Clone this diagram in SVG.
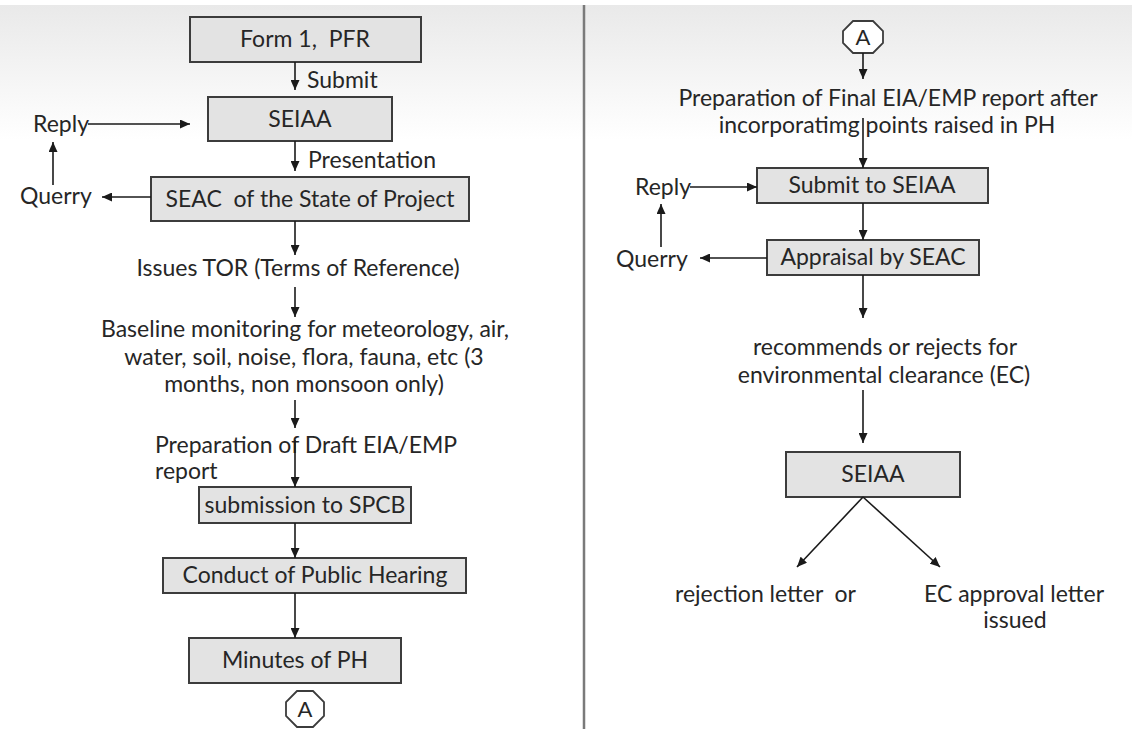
<svg xmlns="http://www.w3.org/2000/svg" width="1132" height="729" viewBox="0 0 1132 729">
<defs>
<linearGradient id="bg" x1="0" y1="0" x2="0" y2="1">
<stop offset="0" stop-color="#e9e9e9"/>
<stop offset="1" stop-color="#ffffff"/>
</linearGradient>
<marker id="ah" markerUnits="userSpaceOnUse" markerWidth="10" markerHeight="9" refX="10" refY="4.5" orient="auto">
<path d="M0,0 L10,4.5 L0,9 z" fill="#1a1a1a"/>
</marker>
<style>
text{font-family:Lato,"Open Sans",sans-serif;font-size:23px;fill:#262626;white-space:pre}
.m{text-anchor:middle}
.box rect{fill:#e3e3e3;stroke:#3c3c3c;stroke-width:2}
.oct polygon{fill:#ffffff;stroke:#3c3c3c;stroke-width:1.8}
.oct text{font-size:22px}
#connectors line{stroke:#1a1a1a;stroke-width:1.6;fill:none;marker-end:url(#ah)}
</style>
</defs>
<rect x="0" y="0" width="1132" height="729" fill="#ffffff"/>
<rect x="0" y="5" width="1132" height="135" fill="url(#bg)"/>
<line x1="584" y1="5" x2="584" y2="729" stroke="#7a7a7a" stroke-width="2.5"/>

<g id="form1" class="box"><rect x="190" y="17" width="231" height="45"/><text class="m" x="305" y="47">Form 1,  PFR</text></g>
<g id="seiaa1" class="box"><rect x="208" y="97" width="184" height="44"/><text class="m" x="300" y="127">SEIAA</text></g>
<g id="seac1" class="box"><rect x="151" y="177" width="318" height="44"/><text class="m" x="310" y="207">SEAC  of the State of Project</text></g>
<g id="submit-label"><text x="307" y="88">Submit</text></g>
<g id="presentation-label"><text x="308" y="168">Presentation</text></g>
<g id="reply1"><text x="33" y="132">Reply</text></g>
<g id="querry1"><text x="20" y="204">Querry</text></g>
<g id="tor"><text class="m" x="298" y="276">Issues TOR (Terms of Reference)</text></g>
<g id="baseline"><text class="m" x="305" y="337">Baseline monitoring for meteorology, air,</text><text class="m" x="304" y="365">water, soil, noise, flora, fauna, etc (3</text><text class="m" x="304" y="392">months, non monsoon only)</text></g>
<g id="draft"><text x="155" y="453">Preparation of Draft EIA/EMP</text><text x="155" y="479">report</text></g>
<g id="spcb" class="box"><rect x="199" y="487" width="212" height="36"/><text class="m" x="305" y="513">submission to SPCB</text></g>
<g id="hearing" class="box"><rect x="163" y="558" width="303" height="35"/><text class="m" x="315" y="583">Conduct of Public Hearing</text></g>
<g id="minutes" class="box"><rect x="189" y="638" width="212" height="45"/><text class="m" x="295" y="668">Minutes of PH</text></g>
<g id="connA1" class="oct"><polygon points="297,691 313,691 324,702 324,716 313,727 297,727 286,716 286,702"/><text class="m" x="305" y="717">A</text></g>

<g id="connA2" class="oct"><polygon points="853,21 873,21 883,31 883,43 873,53 853,53 843,43 843,31"/><text class="m" x="863" y="45">A</text></g>
<g id="final"><text class="m" x="888" y="106">Preparation of Final EIA/EMP report after</text><text class="m" x="887" y="133">incorporatimg points raised in PH</text></g>
<g id="submit2" class="box"><rect x="757" y="168" width="231" height="35"/><text class="m" x="872" y="193">Submit to SEIAA</text></g>
<g id="appraisal" class="box"><rect x="767" y="240" width="212" height="35"/><text class="m" x="873" y="265">Appraisal by SEAC</text></g>
<g id="reply2"><text x="635" y="195">Reply</text></g>
<g id="querry2"><text x="616" y="267">Querry</text></g>
<g id="recommends"><text class="m" x="885" y="355">recommends or rejects for</text><text class="m" x="884" y="383">environmental clearance (EC)</text></g>
<g id="seiaa2" class="box"><rect x="786" y="452" width="174" height="45"/><text class="m" x="873" y="482">SEIAA</text></g>
<g id="rejection"><text x="675" y="602">rejection letter  or</text></g>
<g id="approval"><text class="m" x="1014" y="602">EC approval letter</text><text class="m" x="1015" y="628">issued</text></g>

<g id="connectors">
<line x1="295" y1="62" x2="295" y2="90"/>
<line x1="88" y1="124" x2="190" y2="124"/>
<line x1="295" y1="141" x2="295" y2="171"/>
<line x1="151" y1="197" x2="102" y2="197"/>
<line x1="53" y1="185" x2="53" y2="142"/>
<line x1="295" y1="221" x2="295" y2="255"/>
<line x1="295" y1="287" x2="295" y2="317"/>
<line x1="295" y1="400" x2="295" y2="428"/>
<line x1="295" y1="440" x2="295" y2="487"/>
<line x1="295" y1="523" x2="295" y2="558"/>
<line x1="295" y1="593" x2="295" y2="638"/>
<line x1="863" y1="53" x2="863" y2="79"/>
<line x1="863" y1="118" x2="863" y2="168"/>
<line x1="690" y1="187" x2="757" y2="187"/>
<line x1="863" y1="203" x2="863" y2="240"/>
<line x1="767" y1="258" x2="700" y2="258"/>
<line x1="661" y1="247" x2="661" y2="204"/>
<line x1="863" y1="275" x2="863" y2="318"/>
<line x1="863" y1="390" x2="863" y2="443"/>
<line x1="863" y1="497" x2="797" y2="567"/>
<line x1="863" y1="497" x2="940" y2="567"/>
</g>
</svg>
